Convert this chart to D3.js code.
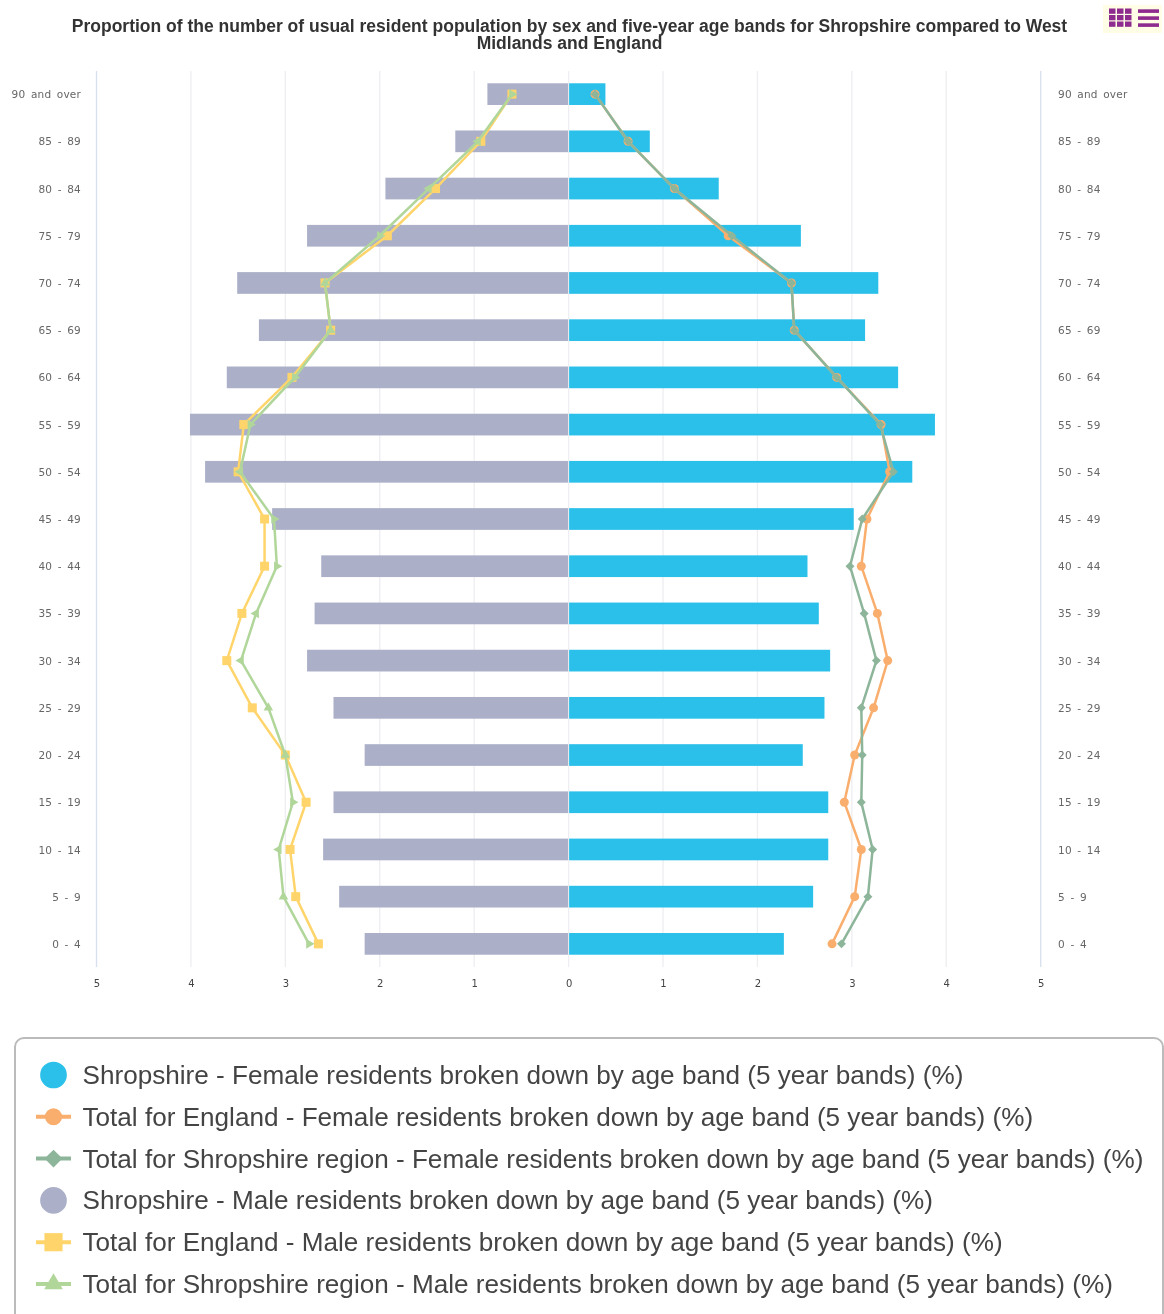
<!DOCTYPE html>
<html>
<head>
<meta charset="utf-8">
<script src="https://cdn.jsdelivr.net/npm/d3@7"></script>
<style>
  html, body { margin: 0; padding: 0; background: #fff; overflow: hidden; }
  svg { filter: blur(0.35px); }
  text { font-family: "Liberation Sans", Arial, sans-serif; }
</style>
</head>
<body>
<svg id="chart" width="1164" height="1314"></svg>
<script>
'use strict';

const ageBands = ["90 and over", "85 - 89", "80 - 84", "75 - 79", "70 - 74", "65 - 69", "60 - 64", "55 - 59", "50 - 54", "45 - 49", "40 - 44", "35 - 39", "30 - 34", "25 - 29", "20 - 24", "15 - 19", "10 - 14", "5 - 9", "0 - 4"];

const femaleShropshire = [0.39, 0.86, 1.59, 2.46, 3.28, 3.14, 3.49, 3.88, 3.64, 3.02, 2.53, 2.65, 2.77, 2.71, 2.48, 2.75, 2.75, 2.59, 2.28];
const femaleEngland = [0.28, 0.63, 1.12, 1.69, 2.36, 2.39, 2.84, 3.31, 3.40, 3.16, 3.10, 3.27, 3.38, 3.23, 3.03, 2.92, 3.10, 3.03, 2.79];
const femaleRegion = [0.28, 0.63, 1.12, 1.73, 2.36, 2.39, 2.84, 3.30, 3.44, 3.11, 2.98, 3.13, 3.26, 3.10, 3.11, 3.10, 3.22, 3.17, 2.89];
const maleShropshire = [0.86, 1.20, 1.94, 2.77, 3.51, 3.28, 3.62, 4.01, 3.85, 3.14, 2.62, 2.69, 2.77, 2.49, 2.16, 2.49, 2.60, 2.43, 2.16];
const maleEngland = [0.60, 0.93, 1.41, 1.92, 2.58, 2.52, 2.93, 3.44, 3.50, 3.22, 3.22, 3.46, 3.62, 3.35, 3.00, 2.78, 2.95, 2.89, 2.65];
const maleRegion = [0.60, 0.96, 1.48, 2.00, 2.58, 2.52, 2.90, 3.37, 3.48, 3.12, 3.09, 3.31, 3.47, 3.18, 3.00, 2.92, 3.07, 3.02, 2.75];

const titleLines = ["Proportion of the number of usual resident population by sex and five-year age bands for Shropshire compared to West", "Midlands and England"];
const legendLabels = [
  "Shropshire - Female residents broken down by age band (5 year bands) (%)",
  "Total for England - Female residents broken down by age band (5 year bands) (%)",
  "Total for Shropshire region - Female residents broken down by age band (5 year bands) (%)",
  "Shropshire - Male residents broken down by age band (5 year bands) (%)",
  "Total for England - Male residents broken down by age band (5 year bands) (%)",
  "Total for Shropshire region - Male residents broken down by age band (5 year bands) (%)"
];

const colFemale = "#2bc0ea", colMale = "#abb0c8", colEngF = "#f9ae6e", colRegF = "#8db59a", colEngM = "#ffd56b", colRegM = "#b0d69a";

let svg = d3.select("#chart");

// x runs from -5 (male side) to 5 (female side)
let x = d3.scaleLinear().domain([-5, 5]).range([96.5, 1040.7]);
let y = d3.scaleBand().domain(ageBands).range([71, 967]).paddingInner(0.54).paddingOuter(0.26);
let cy = d => y(d) + y.bandwidth() / 2;

// title
svg.append("g").selectAll("text").data(titleLines).enter().append("text")
  .attr("x", 569.5)
  .attr("y", (d, i) => 32 + i * 17)
  .attr("text-anchor", "middle")
  .style("font-size", "17.5px")
  .style("font-weight", "bold")
  .style("fill", "#333")
  .text(d => d);

// grid lines
let grid = svg.append("g");
grid.selectAll("line").data(d3.range(-5, 6)).enter().append("line")
  .attr("x1", d => x(d)).attr("x2", d => x(d))
  .attr("y1", 71).attr("y2", 967)
  .attr("stroke", d => Math.abs(d) == 5 ? "#d8dfee" : "#eeeef2")
  .attr("stroke-width", 1.3);

// bars, female to the right and male to the left
svg.append("g").selectAll("rect").data(ageBands).enter().append("rect")
  .attr("x", x(0) + 0.5)
  .attr("y", d => y(d))
  .attr("width", (d, i) => x(femaleShropshire[i]) - x(0) - 0.5)
  .attr("height", y.bandwidth())
  .attr("fill", colFemale);
svg.append("g").selectAll("rect").data(ageBands).enter().append("rect")
  .attr("x", (d, i) => x(-maleShropshire[i]))
  .attr("y", d => y(d))
  .attr("width", (d, i) => x(0) - 0.5 - x(-maleShropshire[i]))
  .attr("height", y.bandwidth())
  .attr("fill", colMale);

// age labels on both sides
let ageAxisLeft = d3.axisLeft(y).tickSize(0).tickPadding(0);
let ageAxisRight = d3.axisRight(y).tickSize(0).tickPadding(0);
svg.append("g").attr("class", "age").attr("transform", "translate(81,0.7)").call(ageAxisLeft);
svg.append("g").attr("class", "age").attr("transform", "translate(1058,0.7)").call(ageAxisRight)
  .selectAll("text").attr("x", 0);

// value axis along the bottom
let valueAxis = d3.axisBottom(x).tickValues(d3.range(-5, 6)).tickFormat(d => Math.abs(d)).tickSize(0).tickPadding(0);
svg.append("g").attr("class", "val").attr("transform", "translate(0,980)").call(valueAxis);

d3.selectAll(".age .domain, .val .domain").remove();
d3.selectAll(".age text")
  .style("font-family", "'DejaVu Sans'")
  .style("font-size", "10.5px")
  .style("letter-spacing", "0.2px")
  .style("word-spacing", "2px")
  .style("fill", "#666")
  .attr("dy", "0.32em");
d3.selectAll(".val text")
  .style("font-family", "'DejaVu Sans'")
  .style("font-size", "10px")
  .style("fill", "#444");

// the line series
let lineFor = sign => d3.line().x(d => x(sign * d)).y((d, i) => cy(ageBands[i]));

function drawLine(values, sign, colour) {
  svg.append("path")
    .attr("d", lineFor(sign)(values))
    .attr("fill", "none")
    .attr("stroke", colour)
    .attr("stroke-width", 2.5);
}

// which way each male region triangle points, as drawn in the original
const triangleTurn = [90, 270, 270, 90, 0, 0, 90, 90, 270, 90, 90, 270, 270, 0, 0, 90, 270, 0, 90];

drawLine(femaleEngland, 1, colEngF);
svg.append("g").selectAll("circle").data(femaleEngland).enter().append("circle")
  .attr("cx", d => x(d)).attr("cy", (d, i) => cy(ageBands[i])).attr("r", 4.5).attr("fill", colEngF);

drawLine(femaleRegion, 1, colRegF);
svg.append("g").selectAll("path").data(femaleRegion).enter().append("path")
  .attr("d", d3.symbol(d3.symbolSquare, 40))
  .attr("transform", (d, i) => `translate(${x(d)},${cy(ageBands[i])}) rotate(45)`)
  .attr("fill", colRegF);

drawLine(maleEngland, -1, colEngM);
svg.append("g").selectAll("rect").data(maleEngland).enter().append("rect")
  .attr("x", d => x(-d) - 4.5).attr("y", (d, i) => cy(ageBands[i]) - 4.5)
  .attr("width", 9).attr("height", 9).attr("fill", colEngM);

drawLine(maleRegion, -1, colRegM);
svg.append("g").selectAll("path").data(maleRegion).enter().append("path")
  .attr("d", d3.symbol(d3.symbolTriangle, 40))
  .attr("transform", (d, i) => `translate(${x(-d)},${cy(ageBands[i])}) rotate(${triangleTurn[i]})`)
  .attr("fill", colRegM);

// legend box, it runs off the bottom of the picture
svg.append("rect")
  .attr("x", 15).attr("y", 1038)
  .attr("width", 1148).attr("height", 300)
  .attr("rx", 9)
  .attr("fill", "#fff")
  .attr("stroke", "#bbb")
  .attr("stroke-width", 2);

let legendY = d3.scalePoint().domain(legendLabels).range([1075, 1284]);
let legendRow = svg.append("g").selectAll("g").data(legendLabels).enter().append("g")
  .attr("transform", d => `translate(0,${legendY(d)})`);

legendRow.append("text")
  .attr("x", 82.5).attr("y", 9)
  .style("font-size", "26.12px")
  .style("fill", "#444")
  .text(d => d);

const legendColours = [colFemale, colEngF, colRegF, colMale, colEngM, colRegM];
const legendSymbols = [d3.symbolCircle, d3.symbolCircle, d3.symbolSquare, d3.symbolCircle, d3.symbolSquare, d3.symbolTriangle];
const legendSizes = [560, 230, 160, 560, 330, 150];
const legendTurn = [0, 0, 45, 0, 0, 0];
const legendHasLine = [false, true, true, false, true, true];

legendRow.each(function(d, i) {
  let row = d3.select(this);
  if (legendHasLine[i]) {
    row.append("line").attr("x1", 36).attr("x2", 71).attr("y1", 0).attr("y2", 0)
      .attr("stroke", legendColours[i]).attr("stroke-width", 4);
  }
  row.append("path")
    .attr("d", d3.symbol(legendSymbols[i], legendSizes[i]))
    .attr("transform", `translate(53.5,0) rotate(${legendTurn[i]})`)
    .attr("fill", legendColours[i]);
});

// export buttons in the top right corner
let icon = svg.append("g");
icon.append("rect").attr("x", 1103).attr("y", 5).attr("width", 59).attr("height", 28).attr("fill", "#fffde6");
d3.range(9).forEach(k => {
  icon.append("rect")
    .attr("x", 1109 + (k % 3) * 8).attr("y", 8.5 + Math.floor(k / 3) * 6.5)
    .attr("width", 6.5).attr("height", 5.3).attr("fill", "#8e2b8e");
});
d3.range(3).forEach(k => {
  icon.append("rect")
    .attr("x", 1138).attr("y", 9.3 + k * 7)
    .attr("width", 21).attr("height", 3.6).attr("fill", "#8e2b8e");
});
</script>
</body>
</html>
